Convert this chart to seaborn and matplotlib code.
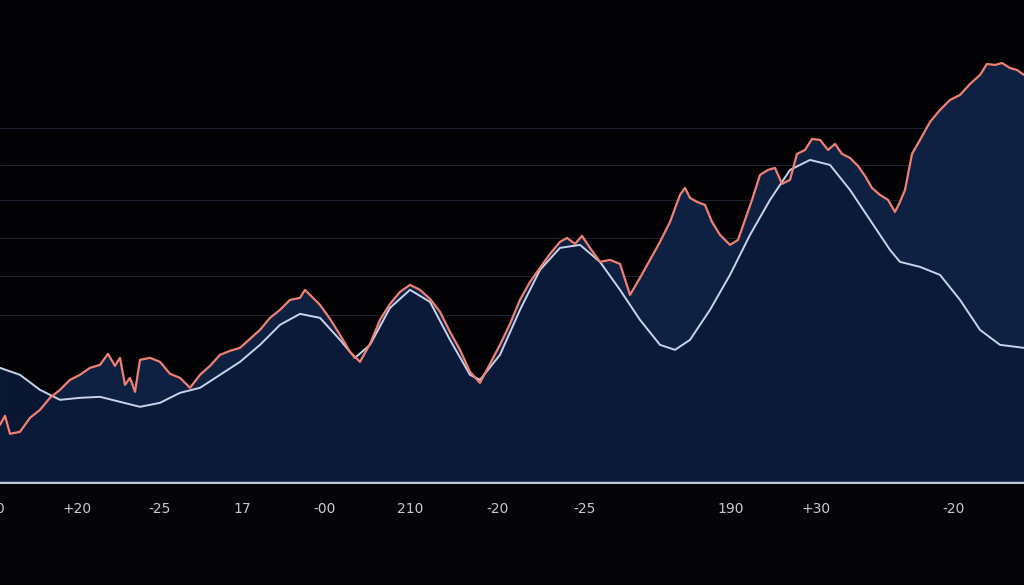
import numpy as np
import pandas as pd
import matplotlib
matplotlib.use("Agg")
import matplotlib.pyplot as plt
import seaborn as sns

# smooth (white) series
smooth_x = [0, 20, 40, 60, 80, 100, 120, 140, 160, 180, 200, 220, 240, 260, 280, 300, 320, 340, 355,
            370, 390, 410, 430, 450, 470, 480, 500, 520, 540, 560, 580, 600, 620, 640, 660, 675, 690,
            710, 730, 750, 770, 790, 810, 830, 850, 870, 890, 900, 920, 940, 960, 980, 1000, 1024]
smooth_y = [116, 109, 94, 84, 86, 87, 82, 77, 81, 91, 96, 109, 122, 139, 159, 170, 166, 144, 126,
            139, 176, 194, 182, 144, 109, 104, 129, 174, 214, 236, 239, 222, 194, 164, 139, 134, 144,
            174, 209, 249, 284, 314, 324, 319, 294, 264, 234, 222, 217, 209, 184, 154, 139, 136]

# noisy (red) series
noisy_x = [0, 5, 10, 20, 30, 40, 50, 60, 70, 80, 90, 100, 108, 115, 120, 125, 130, 135, 140, 150, 160,
           170, 180, 190, 200, 210, 220, 230, 240, 250, 260, 270, 280, 290, 300, 305, 310, 320, 330,
           340, 350, 360, 370, 380, 390, 400, 410, 420, 430, 440, 450, 460, 470, 480, 490, 500, 510,
           520, 530, 540, 550, 560, 567, 575, 582, 590, 600, 610, 620, 630, 640, 650, 660, 670, 680,
           685, 690, 697, 705, 712, 720, 730, 738, 745, 752, 760, 768, 775, 782, 790, 797, 805, 812,
           820, 828, 835, 842, 850, 858, 865, 872, 880, 888, 895, 900, 905, 912, 920, 930, 940, 950,
           960, 970, 980, 987, 995, 1002, 1010, 1017, 1024]
noisy_y = [59, 68, 50, 52, 66, 74, 86, 94, 104, 109, 116, 119, 130, 118, 126, 99, 106, 92, 124, 126, 122,
           110, 106, 96, 109, 118, 129, 133, 136, 145, 154, 166, 174, 184, 186, 194, 189, 179, 165,
           149, 132, 122, 140, 164, 180, 192, 199, 194, 185, 172, 152, 134, 112, 101, 120, 139, 160,
           184, 202, 216, 230, 242, 246, 240, 248, 236, 222, 224, 220, 189, 206, 224, 242, 262, 289,
           296, 286, 282, 279, 262, 249, 239, 244, 264, 284, 309, 314, 316, 300, 304, 330, 334, 345,
           344, 334, 340, 330, 326, 318, 308, 296, 289, 284, 272, 282, 294, 330, 344, 362, 374, 384,
           389, 400, 409, 420, 419, 421, 416, 414, 409]

tick_pos = [0, 77, 160, 242, 325, 410, 498, 585, 659, 731, 816, 886, 954]
tick_lab = ["0", "+20", "-25", "17", "-00", "210", "-20", "-25", "", "190", "+30", "", "-20"]

smooth = pd.DataFrame({"x": smooth_x, "y": smooth_y})
noisy = pd.DataFrame({"x": noisy_x, "y": noisy_y})

sns.set_style("dark")
fig = plt.figure(figsize=(10.24, 5.85), dpi=100, facecolor="#050508")
ax = fig.add_axes([0, 0.173, 1, 0.827])
ax.set_facecolor("#020204")

# faint horizontal grid
for gy in [169, 208, 246, 284, 319, 356]:
    ax.axhline(gy, color="#1c2230", lw=0.8, zorder=0)

ax.fill_between(noisy["x"], noisy["y"], 0, color="#0f2347", alpha=0.95, zorder=1)
ax.fill_between(smooth["x"], smooth["y"], 0, color="#0b1a38", alpha=0.9, zorder=1)

sns.lineplot(data=smooth, x="x", y="y", ax=ax, color="#c8d4ea", lw=1.4, zorder=3)
sns.lineplot(data=noisy, x="x", y="y", ax=ax, color="#f08070", lw=1.6, zorder=4)

ax.set_xlim(0, 1024)
ax.set_ylim(0, 484)
ax.axhline(0.5, color="#c0c8d8", lw=2.5, zorder=5)
ax.set_xticks(tick_pos)
ax.set_xticklabels(tick_lab, color="#c8c8d0", fontsize=10)
ax.tick_params(axis="x", colors="#8890a0", length=5, pad=8, labelcolor="#c8c8d0")
ax.set_yticks([])
ax.set_xlabel("")
ax.set_ylabel("")
ax.grid(False)
for s in ax.spines.values():
    s.set_visible(False)

fig.savefig("out.png", dpi=100, facecolor=fig.get_facecolor())
